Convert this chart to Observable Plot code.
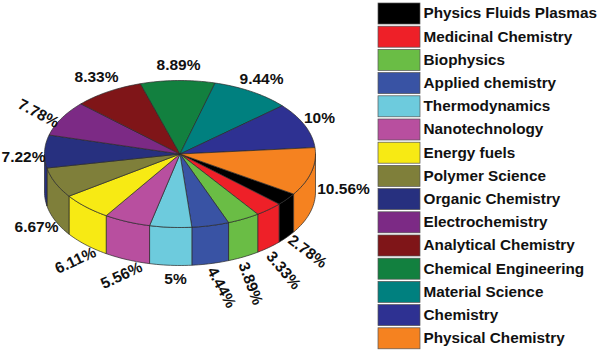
<!DOCTYPE html>
<html>
<head>
<meta charset="utf-8">
<script src="https://cdn.jsdelivr.net/npm/d3@7"></script>
<script src="https://cdn.jsdelivr.net/npm/@observablehq/plot@0.6"></script>
<style>html,body{margin:0;padding:0;background:#fff}svg{display:block}</style>
</head>
<body>
<div id="chart"></div>
<script>
const categories = ["Physics Fluids Plasmas","Medicinal Chemistry","Biophysics","Applied chemistry","Thermodynamics","Nanotechnology","Energy fuels","Polymer Science","Organic Chemistry","Electrochemistry","Analytical Chemistry","Chemical Engineering","Material Science","Chemistry","Physical Chemistry"];
const values = [2.78,3.33,3.89,4.44,5,5.56,6.11,6.67,7.22,7.78,8.33,8.89,9.44,10,10.56];
const colors = ["#000000","#ee2028","#6abd45","#3953a4","#6dcbdd","#b84f9f","#f7ea14","#7f7f3a","#27307f","#7c2a85","#7f1518","#12803f","#00807f","#2e3192","#f58220"];

// layout of the pie (pixels and degrees)
const cx = 179.5, cy = 153.5, rx = 135.5, ry = 73.5, depth = 38, startAngle = 33;
// percent label anchors [x, y, rotation]
const labelX = [307,283,250,221,175,121,75,36,23,38,96,178,261,319,343];
const labelY = [251,270,283,287,279,275,260,227,157,113,77,65,79,118,189];
const labelRotate = [37,50,70,62,0,-25,-25,0,0,28,0,0,0,0,0];

const px = a => cx + rx * Math.cos(a * Math.PI / 180);
const py = (a, d = 0) => cy + ry * Math.sin(a * Math.PI / 180) + d;

let cum = startAngle;
const slices = values.map((v, i) => {
  const a0 = cum, a1 = cum + v * 3.6; cum = a1;
  return {name: categories[i], a0, a1};
});
const arc = (a0, a1) => {
  const n = Math.max(2, Math.ceil(Math.abs(a1 - a0) / 1.5));
  return d3.range(n + 1).map(k => a0 + (a1 - a0) * k / n);
};

const tops = slices.flatMap(s => {
  const pts = [{x: cx, y: cy}, ...arc(s.a0, s.a1).map(a => ({x: px(a), y: py(a)})), {x: cx, y: cy}];
  return pts.map(p => ({...p, name: s.name}));
});
const walls = slices.flatMap(s => {
  const out = [];
  for (const [lo, hi] of [[0, 180], [360, 540]]) {
    const a0 = Math.max(s.a0, lo), a1 = Math.min(s.a1, hi);
    if (a1 <= a0) continue;
    const up = arc(a0, a1), key = s.name + lo;
    const pts = [...up.map(a => ({x: px(a), y: py(a)})), ...up.slice().reverse().map(a => ({x: px(a), y: py(a, depth)})), {x: px(a0), y: py(a0)}];
    out.push(...pts.map(p => ({...p, name: s.name, key})));
  }
  return out;
});

const rowTop = 3, rowStep = 23.2, rowH = 21;
const legend = categories.map((name, i) => ({name, y1: rowTop + i * rowStep, y2: rowTop + i * rowStep + rowH}));
const pieLabels = values.map((v, i) => ({t: v + "%", x: labelX[i], y: labelY[i], r: labelRotate[i]}));

const font = '"Liberation Sans", Arial, sans-serif';
const chart = Plot.plot({
  width: 600, height: 351, margin: 0, axis: null,
  style: {background: "#fff"},
  x: {domain: [0, 600], range: [0, 600]},
  y: {domain: [0, 351], range: [0, 351]},
  color: {domain: categories, range: colors},
  marks: [
    Plot.line(walls, {x: "x", y: "y", z: "key", fill: "name", stroke: "#2a2a2a", strokeWidth: 0.7, curve: "linear"}),
    Plot.line(tops, {x: "x", y: "y", z: "name", fill: "name", stroke: "#2a2a2a", strokeWidth: 0.7, curve: "linear"}),
    Plot.text(pieLabels, {x: "x", y: "y", text: "t", rotate: "r", fontFamily: font, fontWeight: "bold", fontSize: 15.5, fill: "#111"}),
    Plot.rect(legend, {x1: 378, x2: 420, y1: "y1", y2: "y2", fill: "name", stroke: "#555", strokeWidth: 0.7}),
    Plot.text(legend, {x: 423, y: d => (d.y1 + d.y2) / 2 - 0.5, text: "name", textAnchor: "start", fontFamily: font, fontWeight: "bold", fontSize: 15.3, fill: "#111"})
  ]
});
document.getElementById("chart").appendChild(chart);
</script>
</body>
</html>
